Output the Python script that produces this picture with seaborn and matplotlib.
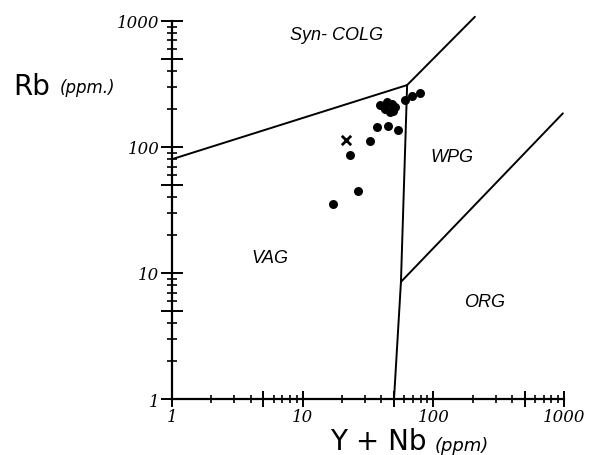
import matplotlib
matplotlib.use('Agg')
import matplotlib.pyplot as plt
import matplotlib.ticker as mticker
import seaborn as sns
import pandas as pd

# granite samples, Y+Nb vs Rb (ppm)
yn = [17, 26.5, 23, 33, 37, 45, 54, 39, 44, 48, 51, 42.6, 46.5, 49, 41, 60.6, 68.6, 79]
rb = [35, 45, 87, 111, 144, 146, 136, 215, 227, 219, 207, 199, 189, 192, 211, 236, 253, 267]
cross_yn = [21.4]
cross_rb = [113]

# field boundaries
vag_colg_x = [1, 63]
vag_colg_y = [80, 310]
vag_wpg_x = [50, 56.5, 63]
vag_wpg_y = [1, 8.5, 310]
colg_wpg_x = [63, 208]
colg_wpg_y = [310, 1080]
wpg_org_x = [56.5, 980]
wpg_org_y = [8.5, 185]

fields = ['Syn- COLG', 'WPG', 'VAG', 'ORG']
field_x = [18, 139, 5.6, 248]
field_y = [774, 84, 13.3, 5.9]

sns.set_style('ticks')
plt.rcParams['font.family'] = ['DejaVu Sans']
plt.rcParams['text.color'] = 'black'
plt.rcParams['xtick.color'] = 'black'
plt.rcParams['ytick.color'] = 'black'

fig = plt.figure(figsize=(5.89, 4.56), dpi=100)
ax = fig.add_axes([0.292, 0.1228, 0.6656, 0.829])
ax.set_xscale('log')
ax.set_yscale('log')
ax.set_xlim(1, 1000)
ax.set_ylim(1, 1000)

pts = pd.DataFrame({'yn': yn, 'rb': rb})
sns.scatterplot(data=pts, x='yn', y='rb', ax=ax, color='black', s=42,
                marker='o', edgecolor='black', linewidth=0, zorder=3)
ax.scatter(cross_yn, cross_rb, marker='x', color='black', s=45, linewidths=2, zorder=3)
ax.set_xlabel('')
ax.set_ylabel('')

for xs, ys in [(vag_colg_x, vag_colg_y), (vag_wpg_x, vag_wpg_y),
               (colg_wpg_x, colg_wpg_y), (wpg_org_x, wpg_org_y)]:
    ax.plot(xs, ys, color='black', lw=1.4, clip_on=False)

for name, fx, fy in zip(fields, field_x, field_y):
    ax.text(fx, fy, name, ha='center', va='center', fontsize=13,
            fontstyle='italic', family='Liberation Sans', color='black')

sns.despine(ax=ax)
for sp in ['left', 'bottom']:
    ax.spines[sp].set_linewidth(1.6)
    ax.spines[sp].set_color('black')

decades = [1, 10, 100, 1000]
majors = [1, 5, 10, 50, 100, 500, 1000]
minors = [v * m for v in [1, 10, 100] for m in [2, 3, 4, 6, 7, 8, 9]]
for axis in [ax.xaxis, ax.yaxis]:
    axis.set_major_locator(mticker.FixedLocator(majors))
    axis.set_minor_locator(mticker.FixedLocator(minors))
    axis.set_major_formatter(mticker.FuncFormatter(
        lambda v, p: '%d' % v if v in decades else ''))
    axis.set_minor_formatter(mticker.NullFormatter())

ax.tick_params(which='major', direction='inout', length=16, width=1.4)
ax.tick_params(which='minor', direction='inout', length=7, width=1.2)
ax.tick_params(axis='x', which='major', length=11, pad=1)
ax.tick_params(axis='x', which='minor', length=6)
ax.tick_params(axis='y', pad=1)
for lab in ax.get_xticklabels() + ax.get_yticklabels():
    lab.set_family('DejaVu Serif')
    lab.set_fontstyle('italic')
    lab.set_fontsize(12)

fig.text(0.022, 0.81, 'Rb', fontsize=20, fontweight='medium', ha='left', va='center')
fig.text(0.102, 0.806, '(ppm.)', fontsize=12, fontstyle='italic', ha='left', va='center')
fig.text(0.56, 0.03, 'Y + Nb', fontsize=20, ha='left', va='center')
fig.text(0.738, 0.022, '(ppm)', fontsize=13, fontstyle='italic', ha='left', va='center')

fig.savefig('out.png', dpi=100, facecolor='white')
